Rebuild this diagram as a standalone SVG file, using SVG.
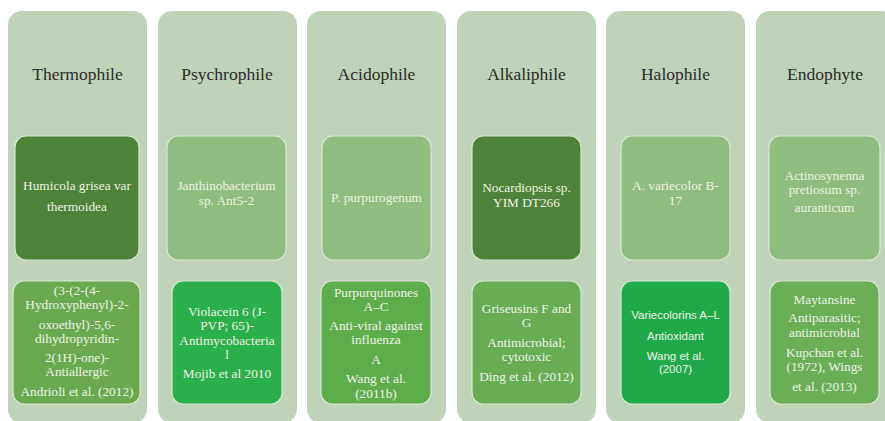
<svg xmlns="http://www.w3.org/2000/svg" width="885" height="421" viewBox="0 0 885 421">
<style>
.col{fill:#bed3b7}
.box{stroke:#d9e8d2;stroke-width:1.2}
.dk{fill:#4e8238}
.lt{fill:#8fbc7f}
.hd{font-family:"Liberation Serif","Times New Roman",serif;font-size:17.5px;fill:#2b2b2b;text-anchor:middle}
.tx{font-family:"Liberation Serif","Times New Roman",serif;font-size:13.3px;fill:#eef3e6;text-anchor:middle}
.sx{font-family:"Liberation Sans",Arial,sans-serif;font-size:11.5px;fill:#eef3e6;text-anchor:middle}
</style>
<rect width="885" height="421" fill="#ffffff"/>
<g id="connectors"/>
<g id="thermophile">
<rect class="col" x="8" y="11" width="139" height="412" rx="14"/>
<text class="hd" x="77.5" y="80">Thermophile</text>
<rect class="box dk" x="15" y="136" width="124" height="124" rx="11"/>
<text class="tx" x="77" y="190">Humicola grisea var</text>
<text class="tx" x="77" y="211">thermoidea</text>
<rect class="box" fill="#6aa94f" x="13" y="281" width="127" height="123" rx="11"/>
<text class="tx" x="77" y="295">(3-(2-(4-</text>
<text class="tx" x="77" y="309">Hydroxyphenyl)-2-</text>
<text class="tx" x="77" y="329">oxoethyl)-5,6-</text>
<text class="tx" x="77" y="343">dihydropyridin-</text>
<text class="tx" x="77" y="362">2(1H)-one)-</text>
<text class="tx" x="77" y="376">Antiallergic</text>
<text class="tx" x="77" y="396">Andrioli et al. (2012)</text>
</g>
<g id="psychrophile">
<rect class="col" x="158" y="11" width="139" height="412" rx="14"/>
<text class="hd" x="227" y="80">Psychrophile</text>
<rect class="box lt" x="167" y="136" width="119" height="124" rx="11"/>
<text class="tx" x="226.5" y="190">Janthinobacterium</text>
<text class="tx" x="226.5" y="205">sp. Ant5-2</text>
<rect class="box" fill="#2aaf4a" x="172" y="281" width="110" height="123" rx="11"/>
<text class="tx" x="227" y="316">Violacein 6 (J-</text>
<text class="tx" x="227" y="330">PVP; 65)-</text>
<text class="tx" x="227" y="345">Antimycobacteria</text>
<text class="tx" x="227" y="359">l</text>
<text class="tx" x="227" y="378">Mojib et al 2010</text>
</g>
<g id="acidophile">
<rect class="col" x="307" y="11" width="139" height="412" rx="14"/>
<text class="hd" x="376.5" y="80">Acidophile</text>
<rect class="box lt" x="322" y="136" width="109" height="124" rx="11"/>
<text class="tx" x="376.5" y="202">P. purpurogenum</text>
<rect class="box" fill="#5ead4c" x="321" y="281" width="110" height="123" rx="11"/>
<text class="tx" x="376" y="297">Purpurquinones</text>
<text class="tx" x="376" y="311">A–C</text>
<text class="tx" x="376" y="330">Anti-viral against</text>
<text class="tx" x="376" y="344">influenza</text>
<text class="tx" x="376" y="364">A</text>
<text class="tx" x="376" y="383">Wang et al.</text>
<text class="tx" x="376" y="398">(2011b)</text>
</g>
<g id="alkaliphile">
<rect class="col" x="457" y="11" width="139" height="412" rx="14"/>
<text class="hd" x="526.5" y="80">Alkaliphile</text>
<rect class="box dk" x="472" y="136" width="109" height="124" rx="11"/>
<text class="tx" x="526.5" y="192">Nocardiopsis sp.</text>
<text class="tx" x="526.5" y="207">YIM DT266</text>
<rect class="box" fill="#68ad53" x="472" y="281" width="109" height="123" rx="11"/>
<text class="tx" x="526.5" y="313">Griseusins F and</text>
<text class="tx" x="526.5" y="327">G</text>
<text class="tx" x="526.5" y="347">Antimicrobial;</text>
<text class="tx" x="526.5" y="361">cytotoxic</text>
<text class="tx" x="526.5" y="381">Ding et al. (2012)</text>
</g>
<g id="halophile">
<rect class="col" x="606" y="11" width="139" height="412" rx="14"/>
<text class="hd" x="675.5" y="80">Halophile</text>
<rect class="box lt" x="621" y="136" width="109" height="124" rx="11"/>
<text class="tx" x="675.5" y="190">A. variecolor B-</text>
<text class="tx" x="675.5" y="205">17</text>
<rect class="box" fill="#20a94a" x="621" y="281" width="109" height="123" rx="11"/>
<text class="sx" x="675.5" y="319">Variecolorins A–L</text>
<text class="sx" x="675.5" y="340">Antioxidant</text>
<text class="sx" x="675.5" y="360">Wang et al.</text>
<text class="sx" x="675.5" y="373">(2007)</text>
</g>
<g id="endophyte">
<rect class="col" x="756" y="11" width="139" height="412" rx="14"/>
<text class="hd" x="825" y="80">Endophyte</text>
<rect class="box lt" x="769" y="136" width="111" height="124" rx="11"/>
<text class="tx" x="824.5" y="180">Actinosynenna</text>
<text class="tx" x="824.5" y="194">pretiosum sp.</text>
<text class="tx" x="824.5" y="212">auranticum</text>
<rect class="box" fill="#6aae56" x="770" y="281" width="109" height="123" rx="11"/>
<text class="tx" x="824.5" y="304">Maytansine</text>
<text class="tx" x="824.5" y="322">Antiparasitic;</text>
<text class="tx" x="824.5" y="337">antimicrobial</text>
<text class="tx" x="824.5" y="357">Kupchan  et al.</text>
<text class="tx" x="824.5" y="371">(1972), Wings</text>
<text class="tx" x="824.5" y="391">et al. (2013)</text>
</g>
</svg>
